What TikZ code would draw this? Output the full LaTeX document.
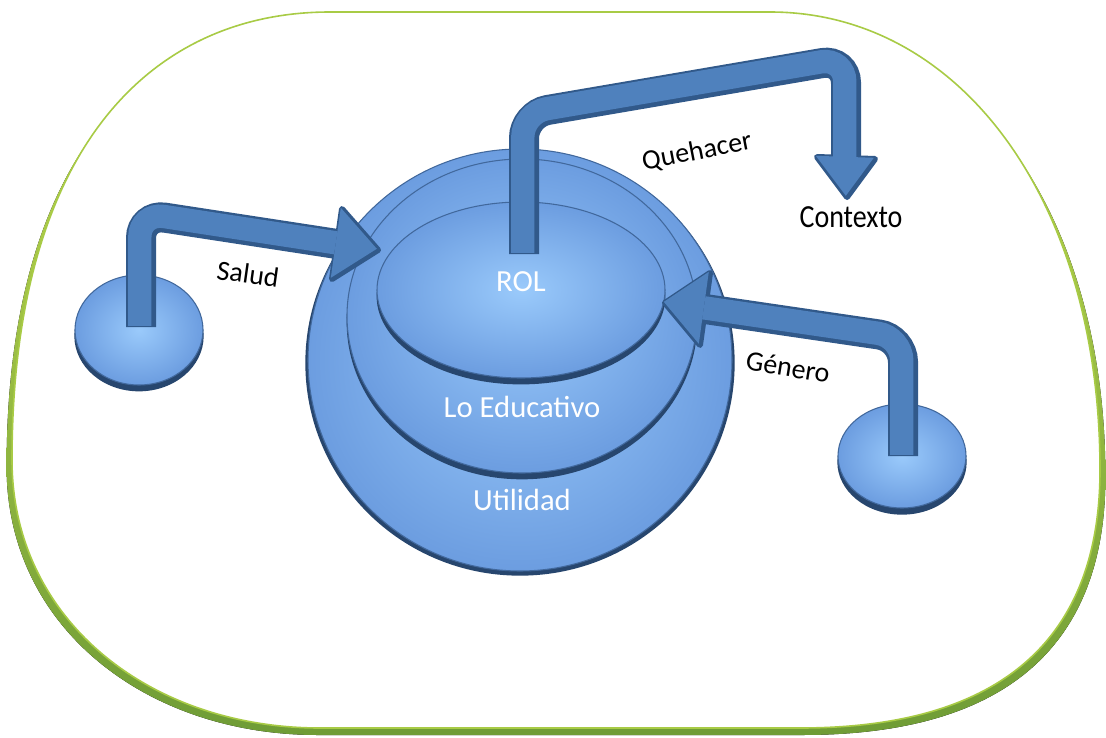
\documentclass[tikz,border=0pt]{standalone}
\usepackage{fontspec}
\setmainfont{Carlito}
\usepackage{graphicx}
\usetikzlibrary{shapes.geometric,calc}
\definecolor{frameLime}{HTML}{C2DC50}
\definecolor{frameOlive}{HTML}{6F9C36}
\definecolor{frameMid}{HTML}{A8CB45}
\definecolor{blueLight}{HTML}{9ACAFB}
\definecolor{blueDark}{HTML}{6C9DE0}
\definecolor{rimDark}{HTML}{27466E}
\definecolor{edgeBlue}{HTML}{41689C}
\definecolor{arrowMid}{HTML}{4F81BD}
\definecolor{arrowDark}{HTML}{31598A}
\def\framepath{(330,12) -- (770,12) .. controls (960,12) and (1100,200) .. (1100,470) .. controls (1100,640) and (1000,728) .. (800,728) -- (320,728) .. controls (150,728) and (12,620) .. (12,460) .. controls (12,150) and (150,12) .. (330,12) -- cycle}
\begin{document}
\begin{tikzpicture}[x=0.75pt,y=-0.75pt,
  blueell/.style={ellipse, inner sep=0pt, draw=edgeBlue, line width=0.8pt, inner color=blueLight, outer color=blueDark},
  rimfill/.style={fill=rimDark},
  shaftdark/.style={draw=arrowDark, line width=22.5pt, rounded corners=18pt, line cap=butt},
  shaftmid/.style={draw=arrowMid, line width=17.5pt, rounded corners=18pt, line cap=butt},
  headdark/.style={fill=arrowDark, draw=arrowDark, line width=4.5pt, line join=round},
  headmid/.style={fill=arrowMid},
  bevel/.style={transform canvas={shift={(-0.9pt,0.9pt)}}},
  whitelbl/.style={text=white, font=\fontsize{23}{27}\selectfont, inner sep=0pt},
  blacklbl/.style={text=black, font=\fontsize{21}{25}\selectfont, inner sep=0pt}]
\useasboundingbox (0,0) rectangle (1106,738);
% frame
\begin{scope}[shift={(556,7)},xscale=1.01,shift={(-556,0)}]
  \fill[top color=frameLime, bottom color=frameOlive] \framepath;
\end{scope}
\fill[white] \framepath;
\draw[frameMid, line width=1.2pt] \framepath;
% side disks
\fill[rimfill] (139,336) ellipse [x radius=48.5pt, y radius=41.5pt];
\node[blueell, minimum width=96pt, minimum height=82.5pt] (saludDisk) at (139,330) {};
\fill[rimfill] (902,462) ellipse [x radius=48.5pt, y radius=39.5pt];
\node[blueell, minimum width=96pt, minimum height=78pt] (generoDisk) at (902,456) {};
% central layers
\fill[rimfill] (520,363) ellipse [x radius=161pt, y radius=159.5pt];
\node[blueell, minimum width=318pt, minimum height=316.5pt] (util) at (520,360) {};
\fill[rimfill] (522,322) ellipse [x radius=131.5pt, y radius=118pt];
\node[blueell, minimum width=262.5pt, minimum height=235.5pt] (edu) at (522,316) {};
\fill[rimfill] (521,296) ellipse [x radius=108.3pt, y radius=66.3pt];
\node[blueell, minimum width=216pt, minimum height=132pt] (rol) at (521,290) {};
% arrow coordinates
\coordinate (sS) at (141,327);
\coordinate (sC) at (141,214);
\coordinate (sB) at (337,244);
\coordinate (sT) at (378,250);
\coordinate (sW1) at (342,209);
\coordinate (sW2) at (332,279);
\coordinate (qS) at (524,254);
\coordinate (qC1) at (524,114);
\coordinate (qC2) at (846,59);
\coordinate (qB) at (846,158);
\coordinate (qT) at (847,197);
\coordinate (qW1) at (817,157);
\coordinate (qW2) at (875,159);
\coordinate (gS) at (903,456);
\coordinate (gC) at (903,338);
\coordinate (gB) at (705,309);
\coordinate (gT) at (665,303);
\coordinate (gW1) at (710,273);
\coordinate (gW2) at (700,345);
% Salud arrow
\draw[shaftdark] (sS) -- (sC) -- (sB);
\filldraw[headdark] (sW1) -- (sT) -- (sW2) -- cycle;
\draw[shaftmid, bevel] (sS) -- (sC) -- (sB);
\fill[headmid, bevel] (sW1) -- (sT) -- (sW2) -- cycle;
% Quehacer arrow
\draw[shaftdark] (qS) -- (qC1) -- (qC2) -- (qB);
\filldraw[headdark] (qW1) -- (qT) -- (qW2) -- cycle;
\draw[shaftmid, bevel] (qS) -- (qC1) -- (qC2) -- (qB);
\fill[headmid, bevel] (qW1) -- (qT) -- (qW2) -- cycle;
% Genero arrow
\draw[shaftdark] (gS) -- (gC) -- (gB);
\filldraw[headdark] (gW1) -- (gT) -- (gW2) -- cycle;
\draw[shaftmid, bevel] (gS) -- (gC) -- (gB);
\fill[headmid, bevel] (gW1) -- (gT) -- (gW2) -- cycle;
% labels
\node[whitelbl] (tRol) at (521,282) {ROL};
\node[whitelbl] (tEdu) at (522,407) {Lo Educativo};
\node[whitelbl] (tUtil) at (522,500) {Utilidad};
\node[blacklbl, rotate=-8] (tSalud) at (248,274) {Salud};
\node[blacklbl, rotate=11] (tQue) at (697,152) {Quehacer};
\node[blacklbl] (tCtx) at (851,217) {\scalebox{1}[1.15]{Contexto}};
\node[blacklbl, rotate=-9] (tGen) at (788,367) {Género};
\end{tikzpicture}
\end{document}
